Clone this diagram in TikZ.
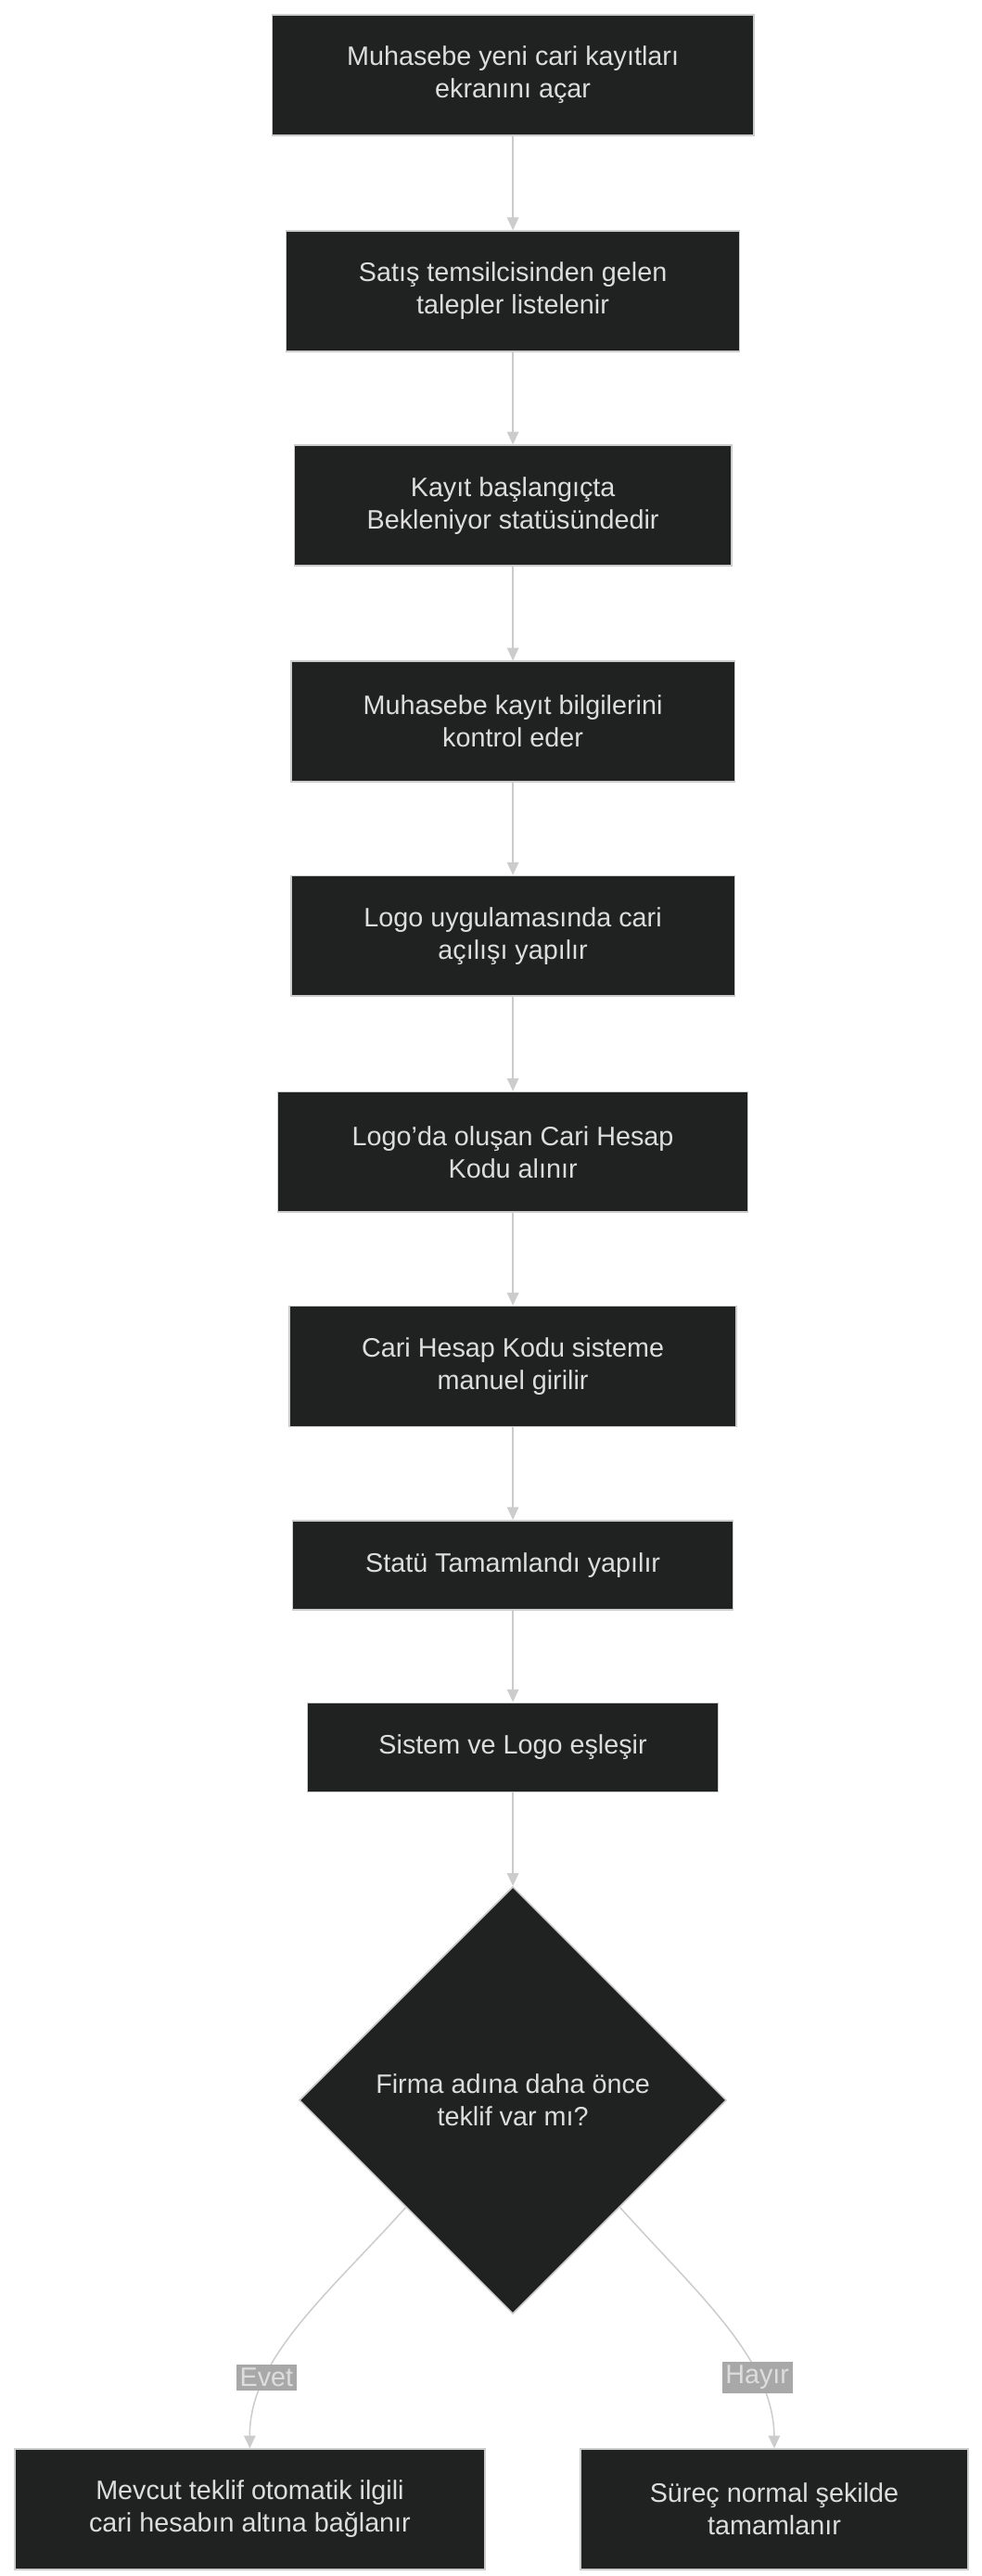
\documentclass[tikz,border=0pt]{standalone}
\usepackage{fontspec}
\setmainfont{Liberation Sans}
\usetikzlibrary{shapes.geometric, positioning, arrows.meta}
\definecolor{boxfill}{HTML}{202121}
\definecolor{boxline}{HTML}{CCCCCC}
\definecolor{boxtext}{HTML}{DDDDDD}
\definecolor{flowline}{HTML}{CCCCCC}
\definecolor{tagfill}{HTML}{A8A8A8}

\begin{document}
\begin{tikzpicture}[
    x=0.05cm, y=-0.05cm,
    every node/.style={font=\fontsize{23}{28}\selectfont},
    stepbox/.style={rectangle, draw=boxline, fill=boxfill, line width=1.2pt, text=boxtext, minimum height=3.65cm, align=center},
    decision/.style={diamond, draw=boxline, fill=boxfill, line width=1.2pt, text=boxtext, minimum size=12.95cm, inner sep=0pt, align=center},
    flow/.style={-{Triangle[length=11pt, width=10pt]}, draw=flowline, line width=1.2pt},
    tag/.style={fill=tagfill, text=boxtext, inner sep=3pt}
]
    \useasboundingbox[fill=white] (0,0) rectangle (595,1562);

    % Steps
    \node[stepbox, minimum width=14.6cm] (open) at (311,45.5) {Muhasebe yeni cari kayıtları\\ekranını açar};
    \node[stepbox, minimum width=13.75cm] (list) at (311,176.5) {Satış temsilcisinden gelen\\talepler listelenir};
    \node[stepbox, minimum width=13.25cm] (wait) at (311,306.5) {Kayıt başlangıçta\\Bekleniyor statüsündedir};
    \node[stepbox, minimum width=13.45cm] (check) at (311,437.5) {Muhasebe kayıt bilgilerini\\kontrol eder};
    \node[stepbox, minimum width=13.45cm] (logo) at (311,567.5) {Logo uygulamasında cari\\açılışı yapılır};
    \node[stepbox, minimum width=14.25cm] (code) at (311,698.5) {Logo'da oluşan Cari Hesap\\Kodu alınır};
    \node[stepbox, minimum width=13.55cm] (enter) at (311,828.5) {Cari Hesap Kodu sisteme\\manuel girilir};
    \node[stepbox, minimum width=13.35cm, minimum height=2.7cm] (done) at (311,949) {Statü Tamamlandı yapılır};
    \node[stepbox, minimum width=12.45cm, minimum height=2.7cm] (sync) at (311,1059.5) {Sistem ve Logo eşleşir};

    % Decision
    \node[decision] (offer) at (311,1273.5) {Firma adına daha önce\\teklif var mı?};

    % Outcomes
    \node[stepbox, minimum width=14.25cm] (attach) at (151.5,1521.5) {Mevcut teklif otomatik ilgili\\cari hesabın altına bağlanır};
    \node[stepbox, minimum width=11.75cm] (finish) at (469.5,1521.5) {Süreç normal şekilde\\tamamlanır};

    % Connectors
    \foreach \a/\b in {open/list, list/wait, wait/check, check/logo, logo/code, code/enter, enter/done, done/sync, sync/offer}
        \draw[flow] (\a) -- (\b);
    \draw[flow] (offer.south west) .. controls (200,1390) and (151,1430) .. (attach.north) node[tag, pos=0.72] {Evet};
    \draw[flow] (offer.south east) .. controls (422,1390) and (469,1430) .. (finish.north) node[tag, pos=0.72] {Hayır};

\end{tikzpicture}
\end{document}
